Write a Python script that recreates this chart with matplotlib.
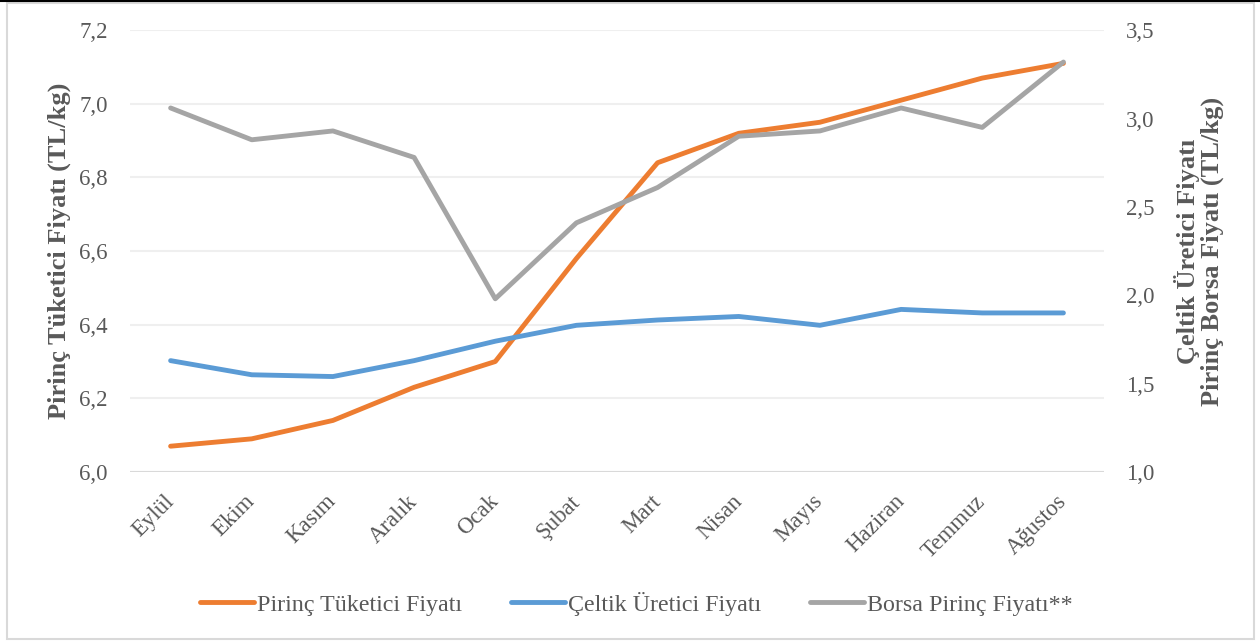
import matplotlib.pyplot as plt
from matplotlib.ticker import FuncFormatter, MultipleLocator
from matplotlib.patches import Rectangle
from matplotlib.lines import Line2D

plt.rcParams['font.family'] = ['Liberation Serif', 'DejaVu Serif']

# months
aylar = ["Eylül", "Ekim", "Kasım", "Aralık", "Ocak", "Şubat",
         "Mart", "Nisan", "Mayıs", "Haziran", "Temmuz", "Ağustos"]

# left axis
pirinc_tuketici = [6.07, 6.09, 6.14, 6.23, 6.30, 6.58,
                   6.84, 6.92, 6.95, 7.01, 7.07, 7.11]

# right axis
celtik_uretici = [1.63, 1.55, 1.54, 1.63, 1.74, 1.83,
                  1.86, 1.88, 1.83, 1.92, 1.90, 1.90]
borsa_pirinc = [3.06, 2.88, 2.93, 2.78, 1.98, 2.41,
                2.61, 2.90, 2.93, 3.06, 2.95, 3.32]

txt = "#595959"
comma = FuncFormatter(lambda v, p: f"{v:.1f}".replace(".", ","))

fig = plt.figure(figsize=(12.6, 6.43), dpi=100)
# outer frame like the source document
fig.patches.append(Rectangle((0.0055, 0.006), 0.99, 0.99, transform=fig.transFigure,
                             fill=False, edgecolor="#d9d9d9", lw=1.5))
fig.lines.append(Line2D([0, 1], [0.9985, 0.9985], transform=fig.transFigure,
                        color="black", lw=1.5))

ax = fig.add_axes([0.1032, 0.266, 0.7730, 0.687])
ax2 = ax.twinx()

x = range(len(aylar))
l1, = ax.plot(x, pirinc_tuketici, color="#ED7D31", lw=3.5, label="Pirinç Tüketici Fiyatı",
              solid_capstyle="round")
l2, = ax2.plot(x, celtik_uretici, color="#5B9BD5", lw=3.5, label="Çeltik Üretici Fiyatı",
               solid_capstyle="round")
l3, = ax2.plot(x, borsa_pirinc, color="#A5A5A5", lw=3.5, label="Borsa Pirinç Fiyatı**",
               solid_capstyle="round")

ax.set_ylim(6.0, 7.2)
ax.yaxis.set_major_locator(MultipleLocator(0.2))
ax.yaxis.set_major_formatter(comma)
ax2.set_ylim(1.0, 3.5)
ax2.yaxis.set_major_locator(MultipleLocator(0.5))
ax2.yaxis.set_major_formatter(comma)
ax.set_xlim(-0.5, 11.5)

ax.grid(axis="y", color="#efefef", lw=1.5)
ax.set_axisbelow(True)
for a in (ax, ax2):
    for s in ("top", "left", "right", "bottom"):
        a.spines[s].set_visible(False)
    a.tick_params(length=0, labelsize=16.5, labelcolor=txt)
ax.axhline(6.0, color="#d9d9d9", lw=1.5, zorder=1)

ax.set_xticks(list(x))
ax.set_xticklabels(aylar, rotation=45, ha="right", va="center", rotation_mode="anchor")
ax.tick_params(axis="x", pad=19, labelsize=16.5)
ax.tick_params(axis="y", pad=16)
ax2.tick_params(axis="y", pad=16)

ax.set_ylabel("Pirinç Tüketici Fiyatı (TL/kg)", fontsize=19, fontweight="bold",
              color=txt, labelpad=6)
ax2.set_ylabel("Çeltik Üretici Fiyatı\nPirinç Borsa Fiyatı (TL/kg)", fontsize=19,
               fontweight="bold", color=txt, rotation=90, labelpad=14, linespacing=1.0)

fig.legend(handles=[l1, l2, l3], loc="center", bbox_to_anchor=(0.505, 0.061), ncol=3,
           frameon=False, fontsize=17.3, labelcolor=txt, handlelength=2.25,
           handletextpad=0.15, columnspacing=2.0)

fig.savefig("out.png", dpi=100)
